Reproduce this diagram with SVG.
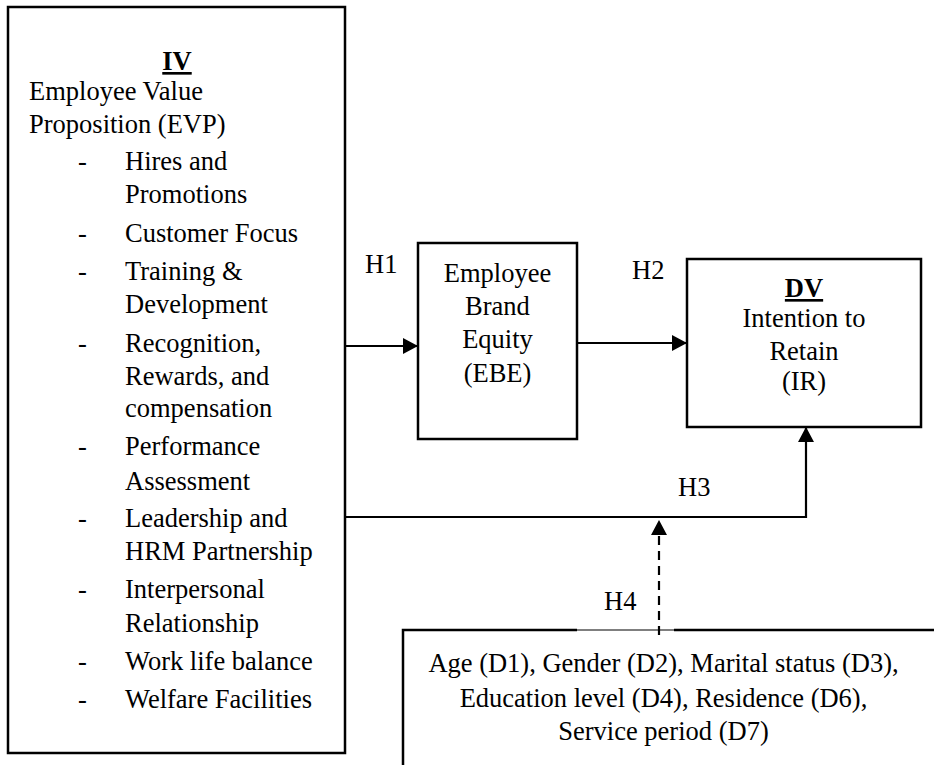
<svg xmlns="http://www.w3.org/2000/svg" width="934" height="765" viewBox="0 0 934 765">
  <style>
    text { font-family: "Liberation Serif", "Times New Roman", serif; font-size: 26.5px; fill: #000; }
    .c { text-anchor: middle; }
    .b { font-weight: bold; text-decoration: underline; }
    .box { fill: #fff; stroke: #000; stroke-width: 2.5; }
    .ln { fill: none; stroke: #000; stroke-width: 2.2; }
    .dash { fill: none; stroke: #000; stroke-width: 2.2; stroke-dasharray: 9 6; }
  </style>
  <defs>
    <marker id="arrow" viewBox="0 0 15 16" refX="15" refY="8" markerWidth="15" markerHeight="16" markerUnits="userSpaceOnUse" orient="auto">
      <path d="M0,0 L15,8 L0,16 Z" fill="#000"/>
    </marker>
  </defs>

  <rect width="934" height="765" fill="#fff"/>

  <!-- Independent variable -->
  <g id="iv">
    <rect class="box" x="8" y="7" width="337" height="746"/>
    <text class="c b" x="177" y="70">IV</text>
    <text x="29" y="100">Employee Value</text>
    <text x="29" y="133">Proposition (EVP)</text>
    <g>
      <text x="78" y="170">-</text><text x="125" y="170">Hires and</text>
      <text x="125" y="203">Promotions</text>
      <text x="78" y="242">-</text><text x="125" y="242">Customer Focus</text>
      <text x="78" y="280">-</text><text x="125" y="280">Training &amp;</text>
      <text x="125" y="313">Development</text>
      <text x="78" y="352">-</text><text x="125" y="352">Recognition,</text>
      <text x="125" y="385">Rewards, and</text>
      <text x="125" y="417">compensation</text>
      <text x="78" y="455">-</text><text x="125" y="455">Performance</text>
      <text x="125" y="490">Assessment</text>
      <text x="78" y="527">-</text><text x="125" y="527">Leadership and</text>
      <text x="125" y="560">HRM Partnership</text>
      <text x="78" y="598">-</text><text x="125" y="598">Interpersonal</text>
      <text x="125" y="632">Relationship</text>
      <text x="78" y="670">-</text><text x="125" y="670">Work life balance</text>
      <text x="78" y="708">-</text><text x="125" y="708">Welfare Facilities</text>
    </g>
  </g>

  <!-- Mediator -->
  <g id="ebe">
    <rect class="box" x="418" y="243" width="159" height="196"/>
    <text class="c" x="497.5" y="282">Employee</text>
    <text class="c" x="497.5" y="315">Brand</text>
    <text class="c" x="497.5" y="348">Equity</text>
    <text class="c" x="497.5" y="382">(EBE)</text>
  </g>

  <!-- Dependent variable -->
  <g id="dv">
    <rect class="box" x="687" y="259" width="234" height="168"/>
    <text class="c b" x="804" y="297">DV</text>
    <text class="c" x="804" y="327">Intention to</text>
    <text class="c" x="804" y="360">Retain</text>
    <text class="c" x="804" y="390">(IR)</text>
  </g>

  <!-- Moderators -->
  <g id="demographics">
    <path d="M403,765 L403,630 L577,630 M674,630 L940,630" fill="none" stroke="#000" stroke-width="2.5"/>
    <line x1="577" y1="630" x2="674" y2="630" stroke="#000" stroke-width="1.2"/>
    <text class="c" x="663.5" y="672">Age (D1), Gender (D2), Marital status (D3),</text>
    <text class="c" x="663.5" y="707">Education level (D4), Residence (D6),</text>
    <text class="c" x="663.5" y="740">Service period (D7)</text>
  </g>

  <!-- Connectors -->
  <g id="connectors">
    <line class="ln" x1="345" y1="346" x2="418" y2="346" marker-end="url(#arrow)"/>
    <line class="ln" x1="577" y1="343" x2="687" y2="343" marker-end="url(#arrow)"/>
    <polyline class="ln" points="345,517 806,517 806,427" marker-end="url(#arrow)"/>
    <line class="dash" x1="659" y1="635" x2="659" y2="530"/>
    <path d="M651,535 L659,520 L667,535 Z" fill="#000"/>
  </g>

  <!-- Hypothesis labels -->
  <g id="labels">
    <text x="365" y="273">H1</text>
    <text x="632" y="279">H2</text>
    <text x="678" y="496">H3</text>
    <text x="604" y="610">H4</text>
  </g>
</svg>
